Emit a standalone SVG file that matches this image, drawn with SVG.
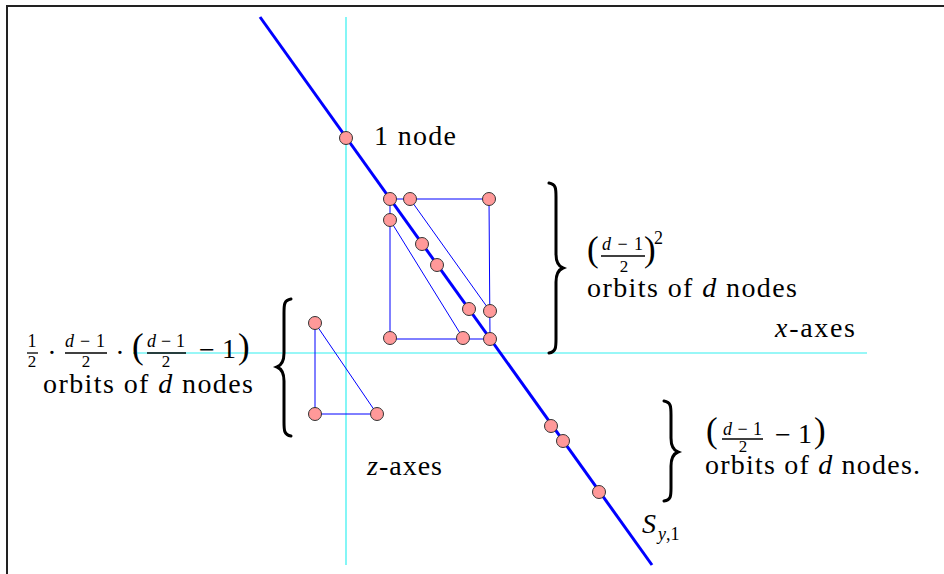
<svg xmlns="http://www.w3.org/2000/svg" width="944" height="574" viewBox="0 0 944 574">
<style>
  .big{font-size:28px}
  .sm{font-size:18px}
  .den{font-size:17px}
  .par{font-size:35px}
  .it{font-style:italic}
  .bar{stroke:#000;stroke-width:1.3}
  .node{fill:#f99;stroke:#333;stroke-width:1}
  .thin{stroke:#0000ff;stroke-width:1;fill:none}
  .axis{stroke:#33f0f0;stroke-width:1.2}
  .brace{fill:none;stroke:#000;stroke-width:3;stroke-linecap:round}
</style>
<rect width="944" height="574" fill="#fff"/>
<path d="M7,574 V6 H944" fill="none" stroke="#222" stroke-width="2"/>

<g id="axes">
  <line class="axis" x1="346" y1="17" x2="346" y2="565"/>
  <line class="axis" x1="133" y1="353" x2="867" y2="353" stroke="#66dede"/>
</g>

<g id="connectors">
  <line x1="260" y1="17" x2="652" y2="565" stroke="#0000ff" stroke-width="3"/>
  <path class="thin" d="M390,199 H489 L490,339 H390 Z"/>
  <line class="thin" x1="410" y1="199" x2="490" y2="311"/>
  <line class="thin" x1="390" y1="220" x2="463" y2="338"/>
  <path class="thin" d="M315,323 V414 H377 Z"/>
</g>

<g id="nodes">
  <circle id="n1" class="node" cx="346" cy="138" r="6.5"/>
  <circle id="n2" class="node" cx="390" cy="199" r="6.5"/>
  <circle id="n3" class="node" cx="410" cy="199" r="6.5"/>
  <circle id="n4" class="node" cx="489" cy="199" r="6.5"/>
  <circle id="n5" class="node" cx="390" cy="220" r="6.5"/>
  <circle id="n6" class="node" cx="422" cy="244" r="6.5"/>
  <circle id="n7" class="node" cx="437" cy="265" r="6.5"/>
  <circle id="n8" class="node" cx="469" cy="309" r="6.5"/>
  <circle id="n9" class="node" cx="490" cy="311" r="6.5"/>
  <circle id="n10" class="node" cx="390" cy="338" r="6.5"/>
  <circle id="n11" class="node" cx="463" cy="338" r="6.5"/>
  <circle id="n12" class="node" cx="490" cy="339" r="6.5"/>
  <circle id="n13" class="node" cx="315" cy="323" r="6.5"/>
  <circle id="n14" class="node" cx="315" cy="414" r="6.5"/>
  <circle id="n15" class="node" cx="377" cy="414" r="6.5"/>
  <circle id="n16" class="node" cx="551" cy="426" r="6.5"/>
  <circle id="n17" class="node" cx="563" cy="441" r="6.5"/>
  <circle id="n18" class="node" cx="599" cy="492" r="6.5"/>
</g>

<g id="braces">
  <path class="brace" d="M549,183 C556,184 556,189 556,197 L556,254 C556,262 558,266 563,268 C558,270 556,274 556,282 L556,339 C556,347 556,352 549,353"/>
  <path class="brace" d="M291,299 C284,300 284,305 284,313 L284,353 C284,361 282,365 277,367 C282,369 284,373 284,381 L284,422 C284,430 284,435 291,436"/>
  <path class="brace" d="M664,401 C671,402 671,407 671,415 L671,438 C671,446 673,450 678,452 C673,454 671,458 671,466 L671,488 C671,496 671,500 664,501"/>
</g>

<g id="labels" font-family="'Liberation Serif', 'Times New Roman', Tinos, 'DejaVu Serif', serif" fill="#000">
  <text class="big" x="374" y="145" textLength="82" lengthAdjust="spacing">1 node</text>

  <!-- left expression -->
  <text class="sm" x="32" y="347" text-anchor="middle">1</text>
  <line class="bar" x1="27" y1="353" x2="38" y2="353"/>
  <text class="den" x="32" y="367" text-anchor="middle">2</text>
  <text class="big" x="52" y="362" text-anchor="middle">·</text>
  <text class="sm" x="65" y="347" textLength="40" lengthAdjust="spacing"><tspan class="it">d</tspan>−1</text>
  <line class="bar" x1="65" y1="353" x2="107" y2="353"/>
  <text class="den" x="86" y="367" text-anchor="middle">2</text>
  <text class="big" x="120" y="362" text-anchor="middle">·</text>
  <text class="par" x="132" y="358">(</text>
  <text class="sm" x="147" y="347" textLength="38" lengthAdjust="spacing"><tspan class="it">d</tspan>−1</text>
  <line class="bar" x1="147" y1="353" x2="186" y2="353"/>
  <text class="den" x="166" y="367" text-anchor="middle">2</text>
  <text class="big" x="199" y="359">−</text>
  <text class="big" x="222" y="358">1</text>
  <text class="par" x="238" y="358">)</text>
  <text class="big" x="43" y="393" textLength="210" lengthAdjust="spacing">orbits of <tspan class="it">d</tspan> nodes</text>

  <!-- top right expression -->
  <text class="par" x="587" y="261">(</text>
  <text class="sm" x="602" y="250" textLength="41" lengthAdjust="spacing"><tspan class="it">d</tspan>−1</text>
  <line class="bar" x1="601" y1="256" x2="645" y2="256"/>
  <text class="den" x="624" y="272" text-anchor="middle">2</text>
  <text class="par" x="644" y="261">)</text>
  <text class="sm" x="654" y="244">2</text>
  <text class="big" x="587" y="297" textLength="210" lengthAdjust="spacing">orbits of <tspan class="it">d</tspan> nodes</text>

  <text class="big" x="775" y="337" textLength="80" lengthAdjust="spacing"><tspan class="it">x</tspan>-axes</text>
  <text class="big" x="367" y="475" textLength="75" lengthAdjust="spacing"><tspan class="it">z</tspan>-axes</text>

  <!-- bottom right expression -->
  <text class="par" x="706" y="442">(</text>
  <text class="sm" x="723" y="435" textLength="39" lengthAdjust="spacing"><tspan class="it">d</tspan>−1</text>
  <line class="bar" x1="722" y1="439" x2="763" y2="439"/>
  <text class="den" x="743" y="452" text-anchor="middle">2</text>
  <text class="big" x="775" y="444">−</text>
  <text class="big" x="798" y="443">1</text>
  <text class="par" x="814" y="442">)</text>
  <text class="big" x="705" y="474" textLength="215" lengthAdjust="spacing">orbits of <tspan class="it">d</tspan> nodes.</text>

  <text class="big it" x="642" y="533">S</text>
  <text class="sm" x="658" y="540"><tspan class="it">y</tspan>,1</text>
</g>
</svg>
